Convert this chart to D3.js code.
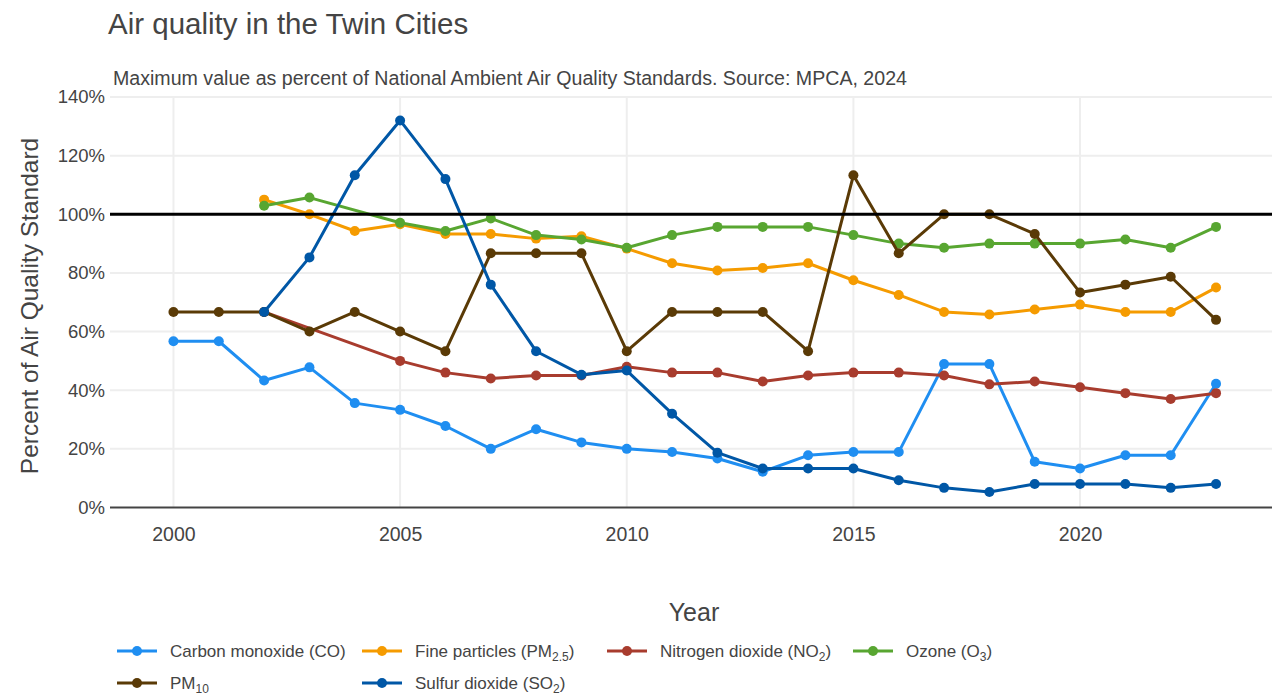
<!DOCTYPE html>
<html>
<head>
<meta charset="utf-8">
<script src="https://cdn.jsdelivr.net/npm/d3@7"></script>
<style>
  body { margin: 0; background: #fff; }
  text { font-family: "Liberation Sans", Arial, sans-serif; fill: #444; }
</style>
</head>
<body>
<div id="chart"></div>
<script>
// values, percent of standard
const years = [2000,2001,2002,2003,2004,2005,2006,2007,2008,2009,2010,2011,2012,2013,2014,2015,2016,2017,2018,2019,2020,2021,2022,2023];
const co    = [56.7,56.7,43.3,47.8,35.6,33.3,27.8,20,26.7,22.2,20,18.9,16.7,12.2,17.8,18.9,18.9,48.9,48.9,15.6,13.3,17.8,17.8,42.2];
const pm25  = [null,null,105,100,94.3,96.6,93.3,93.3,91.7,92.5,88.3,83.3,80.8,81.7,83.3,77.5,72.5,66.7,65.8,67.5,69.2,66.7,66.7,75];
const no2   = [null,null,66.7,null,null,50,46,44,45,45,48,46,46,43,45,46,46,45,42,43,41,39,37,39];
const ozone = [null,null,102.9,105.7,null,97.1,94.3,98.6,92.9,91.4,88.6,92.9,95.7,95.7,95.7,92.9,90,88.6,90,90,90,91.4,88.6,95.7];
const pm10  = [66.7,66.7,66.7,60,66.7,60,53.3,86.7,86.7,86.7,53.3,66.7,66.7,66.7,53.3,113.3,86.7,100,100,93.3,73.3,76,78.7,64];
const so2   = [null,null,66.7,85.3,113.3,132,112,76,53.3,45.3,46.7,32,18.7,13.3,13.3,13.3,9.3,6.7,5.3,8,8,8,6.7,8];

const seriesNames = ["Carbon monoxide (CO)", "Fine particles (PM2.5)", "Nitrogen dioxide (NO2)", "Ozone (O3)", "PM10", "Sulfur dioxide (SO2)"];
const seriesColors = ["#1f8ef1", "#f59b00", "#a83c2e", "#58a631", "#5a3a06", "#0057a6"];
const seriesValues = [co, pm25, no2, ozone, pm10, so2];
const yTicks = [0, 20, 40, 60, 80, 100, 120, 140];
const xTicks = [2000, 2005, 2010, 2015, 2020];
const standardLine = 100;

const width = 1272, height = 696;

const x = d3.scaleLinear().domain([1998.6, 2024.4]).range([110, 1279.5]);
const y = d3.scaleLinear().domain([0, 140]).range([507.5, 97]);

const svg = d3.select("#chart").append("svg")
    .attr("width", width)
    .attr("height", height);

// titles
svg.append("text")
    .attr("x", 108).attr("y", 34)
    .attr("font-size", "29.5px")
    .text("Air quality in the Twin Cities");

svg.append("text")
    .attr("x", 113).attr("y", 85)
    .attr("font-size", "19.6px")
    .text("Maximum value as percent of National Ambient Air Quality Standards. Source: MPCA, 2024");

// grid
const grid = svg.append("g");
grid.selectAll("line.gy").data(yTicks.filter(d => d > 0)).enter().append("line")
    .attr("x1", 110).attr("x2", width)
    .attr("y1", d => y(d)).attr("y2", d => y(d))
    .attr("stroke", "#eeeeee").attr("stroke-width", 2);
grid.selectAll("line.gx").data(xTicks).enter().append("line")
    .attr("x1", d => x(d)).attr("x2", d => x(d))
    .attr("y1", y(140)).attr("y2", y(0))
    .attr("stroke", "#eeeeee").attr("stroke-width", 2);

// axes (labels only)
const yAxis = svg.append("g")
    .attr("transform", "translate(110,0)")
    .call(d3.axisLeft(y).tickValues(yTicks).tickSize(0).tickPadding(5).tickFormat(d => d + "%"));
yAxis.select(".domain").remove();
yAxis.selectAll("text").attr("font-size", "18.5px").attr("font-family", null).attr("fill", "#444");

const xAxis = svg.append("g")
    .attr("transform", "translate(0,507.5)")
    .call(d3.axisBottom(x).tickValues(xTicks).tickSize(0).tickPadding(20).tickFormat(d3.format("d")));
xAxis.select(".domain").remove();
xAxis.selectAll("text").attr("font-size", "19.5px").attr("font-family", null).attr("fill", "#444");

// zero line
svg.append("line")
    .attr("x1", 110).attr("x2", width)
    .attr("y1", y(0)).attr("y2", y(0))
    .attr("stroke", "#444").attr("stroke-width", 2);

// axis titles
svg.append("text")
    .attr("x", 694).attr("y", 621)
    .attr("text-anchor", "middle")
    .attr("font-size", "25px")
    .text("Year");

svg.append("text")
    .attr("transform", "translate(38,306) rotate(-90)")
    .attr("text-anchor", "middle")
    .attr("font-size", "24.5px")
    .text("Percent of Air Quality Standard");

// lines and markers
const line = d3.line()
    .x(d => x(d.year))
    .y(d => y(d.value));

seriesValues.forEach(function(vals, i) {
  const pts = years.map((yr, j) => ({year: yr, value: vals[j]})).filter(d => d.value != null);
  const g = svg.append("g");
  g.append("path")
      .datum(pts)
      .attr("d", line)
      .attr("fill", "none")
      .attr("stroke", seriesColors[i])
      .attr("stroke-width", 3)
      .attr("stroke-linejoin", "round");
  g.selectAll("circle").data(pts).enter().append("circle")
      .attr("cx", d => x(d.year))
      .attr("cy", d => y(d.value))
      .attr("r", 5)
      .attr("fill", seriesColors[i]);
});

// 100% standard line
svg.append("line")
    .attr("x1", 110).attr("x2", width)
    .attr("y1", y(standardLine)).attr("y2", y(standardLine))
    .attr("stroke", "#000").attr("stroke-width", 3);

// legend
const legendPos = [[117, 651], [362, 651], [607, 651], [853, 651], [117, 683], [362, 683]];
const legendLabels = [
  ["Carbon monoxide (CO)"],
  ["Fine particles (PM", "2.5", ")"],
  ["Nitrogen dioxide (NO", "2", ")"],
  ["Ozone (O", "3", ")"],
  ["PM", "10", ""],
  ["Sulfur dioxide (SO", "2", ")"]
];
const legend = svg.append("g");
legendPos.forEach(function(p, i) {
  const lg = legend.append("g").attr("transform", `translate(${p[0]},${p[1]})`);
  lg.append("line").attr("x1", 0).attr("x2", 40).attr("y1", 0).attr("y2", 0)
      .attr("stroke", seriesColors[i]).attr("stroke-width", 3);
  lg.append("circle").attr("cx", 20).attr("cy", 0).attr("r", 5).attr("fill", seriesColors[i]);
  const t = lg.append("text").attr("x", 53).attr("y", 6).attr("font-size", "17px");
  const parts = legendLabels[i];
  t.append("tspan").text(parts[0]);
  if (parts.length > 1) {
    t.append("tspan").attr("dy", 4).attr("font-size", "12px").text(parts[1]);
    t.append("tspan").attr("dy", -4).text(parts[2]);
  }
});
</script>
</body>
</html>
